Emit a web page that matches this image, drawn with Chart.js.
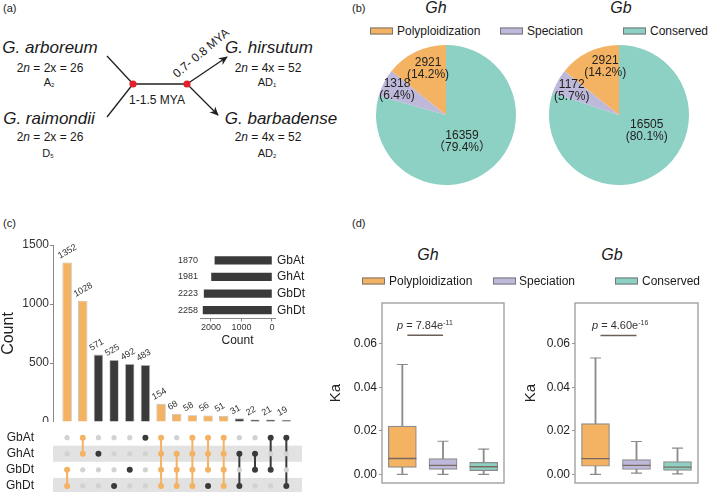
<!DOCTYPE html>
<html lang="en">
<head>
<meta charset="UTF-8">
<title>Gossypium duplicated genes</title>
<script src="https://cdn.jsdelivr.net/npm/chart.js"></script>
<style>
  body { margin: 0; background: #fff; font-family: "Liberation Sans", Arial, sans-serif; color: #1a1a1a; }
  #page { position: relative; width: 709px; height: 492px; overflow: hidden; background: #fff; }
  canvas, svg, .t, .key { position: absolute; }
  .t { white-space: nowrap; line-height: 1; transform: translate(-50%, -50%); }
  .t.l { transform: translate(0, -50%); }
  .sp { font-style: italic; font-size: 17px; }
  .ch { font-size: 12px; }
  .ab { font-size: 11px; }
  .ab sub { font-size: 6px; vertical-align: -1px; }
  .ch i { font-style: italic; }
  .pl { font-size: 11px; }
  .ttl { font-style: italic; font-size: 16px; }
  .lg { font-size: 12px; }
  .key { width: 21px; height: 5px; border: 1px solid #777; transform: translateY(-50%); }
  .pv { font-size: 11px; color: #333; }
  .pv sup { font-size: 7px; vertical-align: 4px; }
</style>
</head>
<body>
<div id="page">

  <!-- (a) schematic -->
  <svg width="360" height="165" style="left:0;top:0">
    <defs>
      <marker id="ah" viewBox="0 0 10 10" refX="9" refY="5" markerWidth="9" markerHeight="9" markerUnits="userSpaceOnUse" orient="auto">
        <path d="M0,0.5 L10,5 L0,9.5 L3,5 z" fill="#231f20"/>
      </marker>
    </defs>
    <g stroke="#231f20" stroke-width="1.3" fill="none">
      <line x1="107" y1="56" x2="133" y2="84"/>
      <line x1="107" y1="117" x2="133" y2="84"/>
      <line x1="133" y1="84" x2="187" y2="84"/>
      <line x1="187" y1="84" x2="227" y2="57" marker-end="url(#ah)"/>
      <line x1="187" y1="84" x2="218" y2="115" marker-end="url(#ah)"/>
    </g>
    <circle cx="133" cy="84" r="3.6" fill="#e0202a"/>
    <circle cx="187" cy="84" r="3.6" fill="#e0202a"/>
  </svg>
  <div class="t l pl" style="left:3px;top:8px">(a)</div>
  <div class="t sp" style="left:50px;top:47px">G. arboreum</div>
  <div class="t ch" style="left:50px;top:68px">2<i>n</i> = 2x = 26</div>
  <div class="t ab" style="left:49px;top:82px">A<sub>2</sub></div>
  <div class="t sp" style="left:49px;top:118px">G. raimondii</div>
  <div class="t ch" style="left:50px;top:137px">2<i>n</i> = 2x = 26</div>
  <div class="t ab" style="left:48px;top:153px">D<sub>5</sub></div>
  <div class="t sp" style="left:269px;top:47px">G. hirsutum</div>
  <div class="t ch" style="left:268px;top:68px">2<i>n</i> = 4x = 52</div>
  <div class="t ab" style="left:267px;top:82px">AD<sub>1</sub></div>
  <div class="t sp" style="left:281px;top:118px">G. barbadense</div>
  <div class="t ch" style="left:268px;top:137px">2<i>n</i> = 4x = 52</div>
  <div class="t ab" style="left:267px;top:153px">AD<sub>2</sub></div>
  <div class="t ch" style="left:157px;top:100px">1-1.5 MYA</div>
  <div class="t ch" style="left:201px;top:53px;transform:translate(-50%,-50%) rotate(-40deg)">0.7- 0.8 MYA</div>

  <!-- (b) pies -->
  <div class="t l pl" style="left:352px;top:8px">(b)</div>
  <div class="t ttl" style="left:436px;top:8px">Gh</div>
  <div class="t ttl" style="left:621px;top:8px">Gb</div>
  <div class="key" style="left:370px;top:31px;background:#F4B263"></div>
  <div class="t l lg" style="left:397px;top:31px">Polyploidization</div>
  <div class="key" style="left:500px;top:31px;background:#BEB9DB"></div>
  <div class="t l lg" style="left:527px;top:31px">Speciation</div>
  <div class="key" style="left:623px;top:31px;background:#8DD0C4"></div>
  <div class="t l lg" style="left:650px;top:31px">Conserved</div>
  <canvas id="pieGh" width="150" height="150" style="left:371px;top:40px"></canvas>
  <canvas id="pieGb" width="150" height="150" style="left:544px;top:40px"></canvas>

  <!-- (c) upset -->
  <div class="t l pl" style="left:3px;top:223px">(c)</div>
  <canvas id="upsetBars" width="310" height="192" style="left:0;top:230px"></canvas>
  <canvas id="setSize" width="135" height="100" style="left:170px;top:250px"></canvas>
  <canvas id="matrix" width="310" height="66" style="left:0;top:428px"></canvas>

  <!-- (d) Ka boxes -->
  <div class="t l pl" style="left:352px;top:223px">(d)</div>
  <div class="t ttl" style="left:428px;top:255px">Gh</div>
  <div class="t ttl" style="left:612px;top:255px">Gb</div>
  <div class="key" style="left:362px;top:281px;background:#F4B263"></div>
  <div class="t l lg" style="left:389px;top:281px">Polyploidization</div>
  <div class="key" style="left:493px;top:281px;background:#BEB9DB"></div>
  <div class="t l lg" style="left:519px;top:281px">Speciation</div>
  <div class="key" style="left:615px;top:281px;background:#8DD0C4"></div>
  <div class="t l lg" style="left:642px;top:281px">Conserved</div>
  <canvas id="boxGh" width="185" height="192" style="left:325px;top:295px"></canvas>
  <canvas id="boxGb" width="184" height="192" style="left:520px;top:295px"></canvas>
  <div class="t l pv" style="left:397px;top:325px"><i>p</i> = 7.84e<sup>-11</sup></div>
  <div class="t l pv" style="left:592px;top:325px"><i>p</i> = 4.60e<sup>-16</sup></div>
</div>

<script>
const ORANGE = '#F4B263', PURPLE = '#BEB9DB', TEAL = '#8DD0C4', DARK = '#3a3a3a';
const FONT = '"Liberation Sans", Arial, "Noto Sans CJK SC", sans-serif';

// (b) pie data, in drawing order clockwise from 12 o'clock
const pieCats = ['Conserved', 'Speciation', 'Polyploidization'];
const ghCounts = [16359, 1318, 2921];
const gbCounts = [16505, 1172, 2921];
const ghPct = ['（79.4%）', '(6.4%)', '(14.2%)'];
const gbPct = ['(80.1%)', '(5.7%)', '(14.2%)'];

// (c) upset data
const upsetCounts = [1352, 1028, 571, 525, 492, 483, 154, 68, 58, 56, 51, 31, 22, 21, 19];
const upsetOrange = [1, 1, 0, 0, 0, 0, 1, 1, 1, 1, 1, 0, 0, 0, 0];
const setNames = ['GbAt', 'GhAt', 'GbDt', 'GhDt'];
const setSizes = [1870, 1981, 2223, 2258];
const orangeRows = [[2,3],[0,1],[],[],[],[],[0,1,2,3],[1,2,3],[0,1,2,3],[0,1,2],[0,1,2,3],[],[],[],[]];
const darkRows   = [[],[],[1],[3],[2],[0],[],[],[],[3],[],[1,3],[1,2],[0,2],[0,3]];

// (d) Ka box plots
const boxGroups = ['Polyploidization', 'Speciation', 'Conserved'];
const ghMin = [0.0000, 0.0000, 0.0000];
const ghQ1  = [0.0032, 0.0023, 0.0017];
const ghMed = [0.0073, 0.0041, 0.0035];
const ghQ3  = [0.0222, 0.0072, 0.0055];
const ghMax = [0.0505, 0.0152, 0.0116];
const gbMin = [0.0000, 0.0005, 0.0002];
const gbQ1  = [0.0037, 0.0022, 0.0018];
const gbMed = [0.0072, 0.0041, 0.0033];
const gbQ3  = [0.0233, 0.0068, 0.0058];
const gbMax = [0.0535, 0.0151, 0.0120];

Chart.defaults.font.family = FONT;
Chart.defaults.color = '#222';
Chart.defaults.animation = false;
Chart.defaults.responsive = false;
Chart.defaults.layout.autoPadding = false;
Chart.defaults.plugins.legend.display = false;
Chart.defaults.plugins.tooltip.enabled = false;

// fixed axis sizes so the plot areas land where the figure has them
const fixY = w => s => { s.width = w; s.paddingTop = 0; s.paddingBottom = 0; };
const fixX = h => s => { s.height = h; s.paddingLeft = 0; s.paddingRight = 0; };

// text inside the pie slices
const pieText = {
  id: 'pieText',
  afterDatasetsDraw(chart, args, opts) {
    const ctx = chart.ctx;
    const arc = chart.getDatasetMeta(0).data[0];
    ctx.save();
    ctx.font = '12px ' + FONT;
    ctx.fillStyle = '#222';
    ctx.textAlign = 'center';
    ctx.textBaseline = 'middle';
    opts.counts.forEach((c, i) => {
      const [deg, dist] = opts.place[i];
      const a = (deg - 90) * Math.PI / 180;
      const x = arc.x + dist * Math.cos(a), y = arc.y + dist * Math.sin(a);
      ctx.fillText(String(c), x, y - 6);
      ctx.fillText(opts.pct[i], x, y + 6);
    });
    ctx.restore();
  }
};

function pie(id, counts, pct, place) {
  new Chart(document.getElementById(id), {
    type: 'pie',
    data: { labels: pieCats, datasets: [{ data: counts, backgroundColor: [TEAL, PURPLE, ORANGE], borderWidth: 0 }] },
    options: { layout: { padding: 5 }, plugins: { pieText: { counts, pct, place } } },
    plugins: [pieText]
  });
}
pie('pieGh', ghCounts, ghPct, [[149, 31], [297, 55], [339, 50]]);
pie('pieGb', gbCounts, gbPct, [[120, 32], [297, 53], [344, 50]]);

// rotated numbers over the intersection bars
const barValues = {
  id: 'barValues',
  afterDatasetsDraw(chart) {
    const ctx = chart.ctx;
    ctx.save();
    ctx.font = '9px ' + FONT;
    ctx.fillStyle = '#333';
    ctx.textAlign = 'left';
    ctx.textBaseline = 'bottom';
    chart.getDatasetMeta(0).data.forEach((bar, i) => {
      ctx.save();
      ctx.translate(bar.x - 6, bar.y - 2);
      ctx.rotate(-30 * Math.PI / 180);
      ctx.fillText(String(upsetCounts[i]), 0, 0);
      ctx.restore();
    });
    ctx.restore();
  }
};

new Chart(document.getElementById('upsetBars'), {
  type: 'bar',
  data: { datasets: [{
    data: upsetCounts.map((v, i) => ({ x: i, y: v })),
    backgroundColor: upsetOrange.map(o => o ? ORANGE : DARK),
    borderColor: 'rgba(160,160,160,0.7)', borderWidth: 0.8,
    barPercentage: 0.6, categoryPercentage: 1
  }] },
  options: {
    layout: { padding: { top: 15, right: 8, bottom: 0, left: 0 } },
    scales: {
      x: { type: 'linear', offset: false, min: -0.9, max: 15, ticks: { display: false }, grid: { display: false },
           border: { color: '#888' }, afterFit: fixX(0) },
      y: { min: 0, max: 1500,
           afterBuildTicks: s => { s.ticks = [0, 500, 1000, 1500].map(v => ({ value: v })); },
           ticks: { font: { size: 12 }, color: '#333', padding: 1, callback: v => String(v) },
           grid: { drawOnChartArea: false, tickLength: 3, color: '#888' },
           border: { color: '#888' },
           title: { display: true, text: 'Count', font: { size: 16, lineHeight: 1 }, color: '#222', padding: { top: 0.5, bottom: 0.5 } },
           afterFit: fixY(53) }
    }
  },
  plugins: [barValues]
});

// set-size inset: numbers in a column left of the bars
const sizeValues = {
  id: 'sizeValues',
  afterDatasetsDraw(chart) {
    const ctx = chart.ctx;
    ctx.save();
    ctx.font = '9px ' + FONT;
    ctx.fillStyle = '#333';
    ctx.textAlign = 'right';
    ctx.textBaseline = 'middle';
    chart.getDatasetMeta(0).data.forEach((bar, i) => {
      ctx.fillText(String(setSizes[i]), chart.chartArea.left - 2, bar.y);
    });
    ctx.restore();
  }
};

new Chart(document.getElementById('setSize'), {
  type: 'bar',
  data: { labels: setNames, datasets: [{ data: setSizes, backgroundColor: DARK, barThickness: 7.5 }] },
  options: {
    indexAxis: 'y',
    layout: { padding: { top: 2, left: 30, right: 0, bottom: 0 } },
    scales: {
      x: { reverse: true, min: -100, max: 2360,
           afterBuildTicks: s => { s.ticks = [2000, 1000, 0].map(v => ({ value: v })); },
           ticks: { font: { size: 9 }, color: '#333', padding: 1, maxRotation: 0, callback: v => String(v) },
           grid: { drawOnChartArea: false, tickLength: 3, color: '#888' },
           border: { color: '#888' },
           title: { display: true, text: 'Count', font: { size: 12 }, color: '#222', padding: { top: 0, bottom: 2 } },
           afterFit: fixX(31.5) },
      y: { position: 'right', grid: { display: false, drawTicks: false }, border: { display: false },
           ticks: { font: { size: 12 }, color: '#222', padding: 2, autoSkip: false },
           afterFit: fixY(30) }
    }
  },
  plugins: [sizeValues]
});

// intersection matrix
const bands = {
  id: 'bands',
  beforeDatasetsDraw(chart) {
    const { ctx, chartArea: a, scales: { y } } = chart;
    ctx.save();
    ctx.fillStyle = '#e2e2e2';
    [1, 3].forEach(r => {
      const t = y.getPixelForValue(r - 0.5), b = y.getPixelForValue(r + 0.5);
      ctx.fillRect(a.left, t, a.right - a.left, b - t);
    });
    ctx.restore();
  }
};

const matrixSets = [];
upsetCounts.forEach((_, i) => {
  [[orangeRows[i], ORANGE], [darkRows[i], DARK]].forEach(([rows, col]) => {
    if (rows.length > 1) {
      matrixSets.push({ type: 'line', showLine: true, data: [{ x: i, y: Math.min(...rows) }, { x: i, y: Math.max(...rows) }],
        borderColor: col, borderWidth: 2, pointRadius: 0 });
    }
  });
});
const greyPts = [], orangePts = [], darkPts = [];
upsetCounts.forEach((_, i) => {
  setNames.forEach((_, r) => {
    if (orangeRows[i].includes(r)) orangePts.push({ x: i, y: r });
    else if (darkRows[i].includes(r)) darkPts.push({ x: i, y: r });
    else greyPts.push({ x: i, y: r });
  });
});
matrixSets.unshift({ data: greyPts, pointRadius: 2.6, backgroundColor: '#d2d2d2', borderWidth: 0 });
matrixSets.push({ data: orangePts, pointRadius: 3, backgroundColor: ORANGE, borderWidth: 0 });
matrixSets.push({ data: darkPts, pointRadius: 3, backgroundColor: DARK, borderWidth: 0 });

new Chart(document.getElementById('matrix'), {
  type: 'scatter',
  data: { datasets: matrixSets },
  options: {
    layout: { padding: { top: 1.6, right: 8, bottom: 0, left: 0 } },
    scales: {
      x: { type: 'linear', min: -0.9, max: 15, display: false },
      y: { type: 'linear', reverse: true, min: -0.5, max: 3.5,
           afterBuildTicks: s => { s.ticks = [0, 1, 2, 3].map(v => ({ value: v })); },
           ticks: { font: { size: 12 }, color: '#222', padding: 11, autoSkip: false, callback: v => setNames[v] },
           grid: { display: false }, border: { display: false },
           afterFit: fixY(53) }
    }
  },
  plugins: [bands]
});

// box plot frame and significance bar
const frame = {
  id: 'frame',
  afterDatasetsDraw(chart, args, opts) {
    const { ctx, chartArea: a, scales: { x, y } } = chart;
    ctx.save();
    ctx.strokeStyle = '#9a9a9a';
    ctx.lineWidth = 1.3;
    ctx.strokeRect(a.left, a.top, a.right - a.left, a.bottom - a.top);
    ctx.strokeStyle = '#6b5f58';
    ctx.lineWidth = 1.5;
    ctx.beginPath();
    const py = y.getPixelForValue(opts.pY);
    ctx.moveTo(x.getPixelForValue(0) + 5, py);
    ctx.lineTo(x.getPixelForValue(1), py);
    ctx.stroke();
    ctx.restore();
  }
};

function boxChart(id, mn, q1, med, q3, mx, axisW, pY) {
  const cap = d => ({ type: 'line', data: d, showLine: false, pointStyle: 'line', pointRadius: 5.5,
    borderColor: '#8c8c8c', pointBorderColor: '#8c8c8c', pointBorderWidth: 1.2, order: 1 });
  new Chart(document.getElementById(id), {
    type: 'bar',
    data: { labels: boxGroups, datasets: [
      { data: mn.map((v, i) => [v, mx[i]]), backgroundColor: '#8c8c8c', barThickness: 1.2, grouped: false, order: 3 },
      { data: q1.map((v, i) => [v, q3[i]]), backgroundColor: [ORANGE, PURPLE, TEAL], borderColor: '#8c8c8c',
        borderWidth: 1.2, borderSkipped: false, barThickness: 28, grouped: false, order: 2 },
      { type: 'line', data: med, showLine: false, pointStyle: 'line', pointRadius: 14,
        borderColor: '#7a6a5e', pointBorderColor: '#7a6a5e', pointBorderWidth: 1.4, order: 0 },
      cap(mx), cap(mn)
    ] },
    options: {
      layout: { padding: { top: 8, right: 6, bottom: 4, left: 0 } },
      plugins: { frame: { pY } },
      scales: {
        x: { display: false },
        y: { min: -0.004, max: 0.0788,
             afterBuildTicks: s => { s.ticks = [0, 0.02, 0.04, 0.06].map(v => ({ value: v })); },
             ticks: { font: { size: 12 }, color: '#222', padding: 2, callback: v => v.toFixed(2) },
             grid: { drawOnChartArea: false, tickLength: 3, color: '#999' },
             border: { display: false },
             title: { display: true, text: 'Ka', font: { size: 15, lineHeight: 1.2 }, color: '#222', padding: { top: 2, bottom: 2 } },
             afterFit: fixY(axisW) }
      }
    },
    plugins: [frame]
  });
}
boxChart('boxGh', ghMin, ghQ1, ghMed, ghQ3, ghMax, 57, 0.064);
boxChart('boxGb', gbMin, gbQ1, gbMed, gbQ3, gbMax, 55, 0.0638);
</script>
</body>
</html>
